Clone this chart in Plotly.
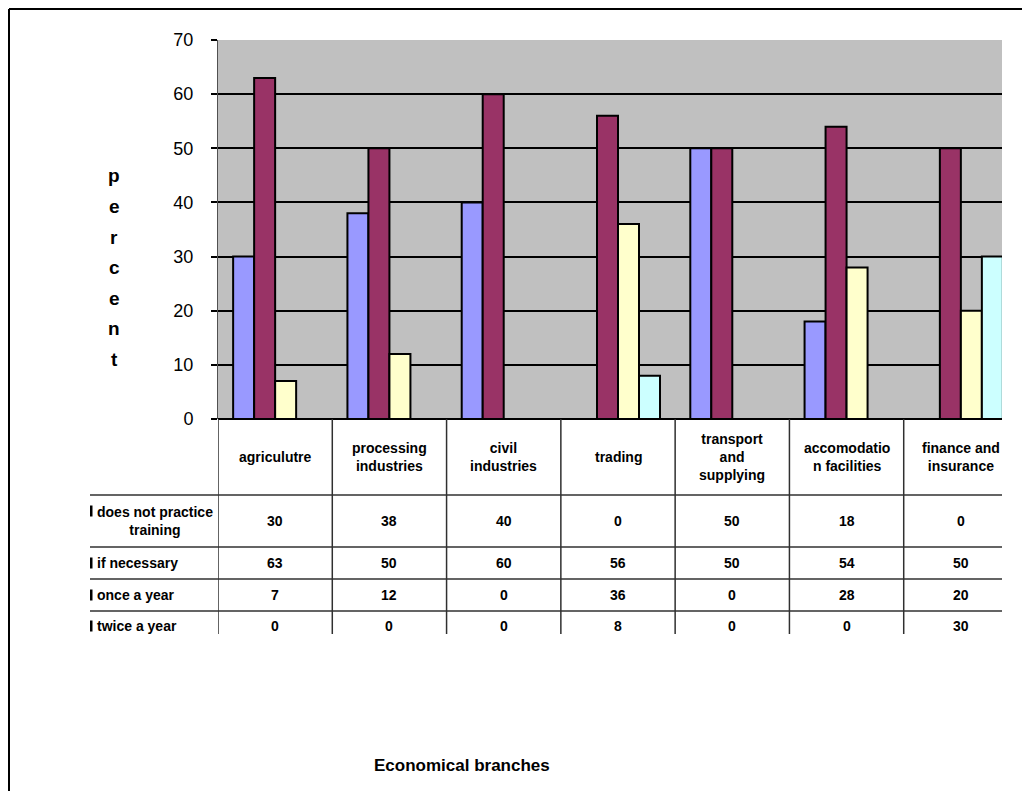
import plotly.graph_objects as go

# Survey: how often enterprises practise staff training, by economic branch (%)
categories = [
    "agriculutre",
    "processing<br>industries",
    "civil<br>industries",
    "trading",
    "transport<br>and<br>supplying",
    "accomodatio<br>n facilities",
    "finance and<br>insurance",
]
series_names = [
    "does not practice<br>training",
    "if necessary",
    "once a year",
    "twice a year",
]
does_not_practice = [30, 38, 40, 0, 50, 18, 0]
if_necessary = [63, 50, 60, 56, 50, 54, 50]
once_a_year = [7, 12, 0, 36, 0, 28, 20]
twice_a_year = [0, 0, 0, 8, 0, 0, 30]
y_ticks = [0, 10, 20, 30, 40, 50, 60, 70]

series_values = [does_not_practice, if_necessary, once_a_year, twice_a_year]
colors = ["#9999FF", "#993366", "#FFFFCC", "#CCFFFF"]

W, H = 1022, 791
L, R, T, B = 218, 1002, 40, 419          # plot area in pixels
ML, MR, MT, MB = L, W - R, T, H - B

def px(xp):
    return (xp - L) / (R - L)

def py(yp):
    return (B - yp) / (B - T)

ARIAL = "Liberation Sans, Arial, sans-serif"
TABLE_FONT = dict(family=ARIAL, size=14, color="black")

xs = list(range(len(categories)))
fig = go.Figure()
for name, vals, col in zip(series_names, series_values, colors):
    fig.add_trace(go.Bar(
        x=xs, y=vals, name=name,
        marker=dict(color=col, line=dict(color="black", width=2)),
        showlegend=False,
    ))

fig.update_layout(
    width=W, height=H,
    margin=dict(l=ML, r=MR, t=MT, b=MB, pad=0),
    paper_bgcolor="white",
    plot_bgcolor="#C0C0C0",
    barmode="group",
    bargap=0.265,
    bargroupgap=0,
    font=dict(family=ARIAL, color="black"),
)
fig.update_xaxes(
    range=[-0.5, 6.36], showticklabels=False, showgrid=False,
    zeroline=False, showline=False, ticks="",
)
fig.update_yaxes(
    range=[0, 70], tickvals=y_ticks, showgrid=True, gridcolor="black",
    gridwidth=2, zeroline=True, zerolinecolor="black", zerolinewidth=2,
    ticks="outside", ticklen=6, tickcolor="black", tickwidth=2,
    tickfont=dict(size=18, family=ARIAL), ticklabelstandoff=14,
    showline=True, linecolor="#505050", linewidth=1,
)

shapes = []
annotations = []

# Outer chart frame (top and left edges visible)
shapes.append(dict(type="line", xref="paper", yref="paper",
                   x0=px(9), x1=px(W + 5), y0=py(9), y1=py(9),
                   line=dict(color="black", width=2)))
shapes.append(dict(type="line", xref="paper", yref="paper",
                   x0=px(9), x1=px(9), y0=py(9), y1=py(H + 5),
                   line=dict(color="black", width=2)))

# Data table grid
table_bottom = 634
for k in range(len(categories)):
    shapes.append(dict(type="line", xref="x", yref="paper",
                       x0=k - 0.5, x1=k - 0.5, y0=py(B), y1=py(table_bottom),
                       line=dict(color="#303030", width=1.5)))
row_lines = [495, 547, 579, 611]
for yl in row_lines:
    shapes.append(dict(type="line", xref="paper", yref="paper",
                       x0=px(90), x1=1, y0=py(yl), y1=py(yl),
                       line=dict(color="#303030", width=1.5)))

# Header row: category names
for k, cat in enumerate(categories):
    annotations.append(dict(x=k, y=py(457), xref="x", yref="paper",
                            text="<b>%s</b>" % cat, showarrow=False,
                            font=TABLE_FONT,
                            xanchor="center", yanchor="middle", align="center"))

# Rows: legend key, series name and values
row_centers = [521, 563, 595, 626]
for name, vals, yc in zip(series_names, series_values, row_centers):
    key_y = yc - 10 if "<br>" in name else yc
    shapes.append(dict(type="rect", xref="paper", yref="paper",
                       x0=px(90), x1=px(92.5), y0=py(key_y - 5.5), y1=py(key_y + 5.5),
                       fillcolor="black", line=dict(width=0)))
    annotations.append(dict(x=px(95), y=py(yc), xref="paper", yref="paper",
                            text="<b>%s</b>" % name, showarrow=False,
                            font=TABLE_FONT,
                            xanchor="left", yanchor="middle", align="center"))
    for k, v in enumerate(vals):
        annotations.append(dict(x=k, y=py(yc), xref="x", yref="paper",
                                text="<b>%d</b>" % v, showarrow=False,
                                font=TABLE_FONT,
                                xanchor="center", yanchor="middle"))

# Vertical axis title, one letter per line
for i, ch in enumerate("percent"):
    annotations.append(dict(x=px(114), y=py(176 + i * 30.5), xref="paper", yref="paper",
                            text="<b>%s</b>" % ch, showarrow=False,
                            font=dict(family=ARIAL, size=19),
                            xanchor="center", yanchor="middle"))

# Horizontal axis title
annotations.append(dict(x=px(462), y=py(765), xref="paper", yref="paper",
                        text="<b>Economical branches</b>", showarrow=False,
                        font=dict(family=ARIAL, size=17),
                        xanchor="center", yanchor="middle"))

fig.update_layout(shapes=shapes, annotations=annotations)
fig.write_html("out.html")
